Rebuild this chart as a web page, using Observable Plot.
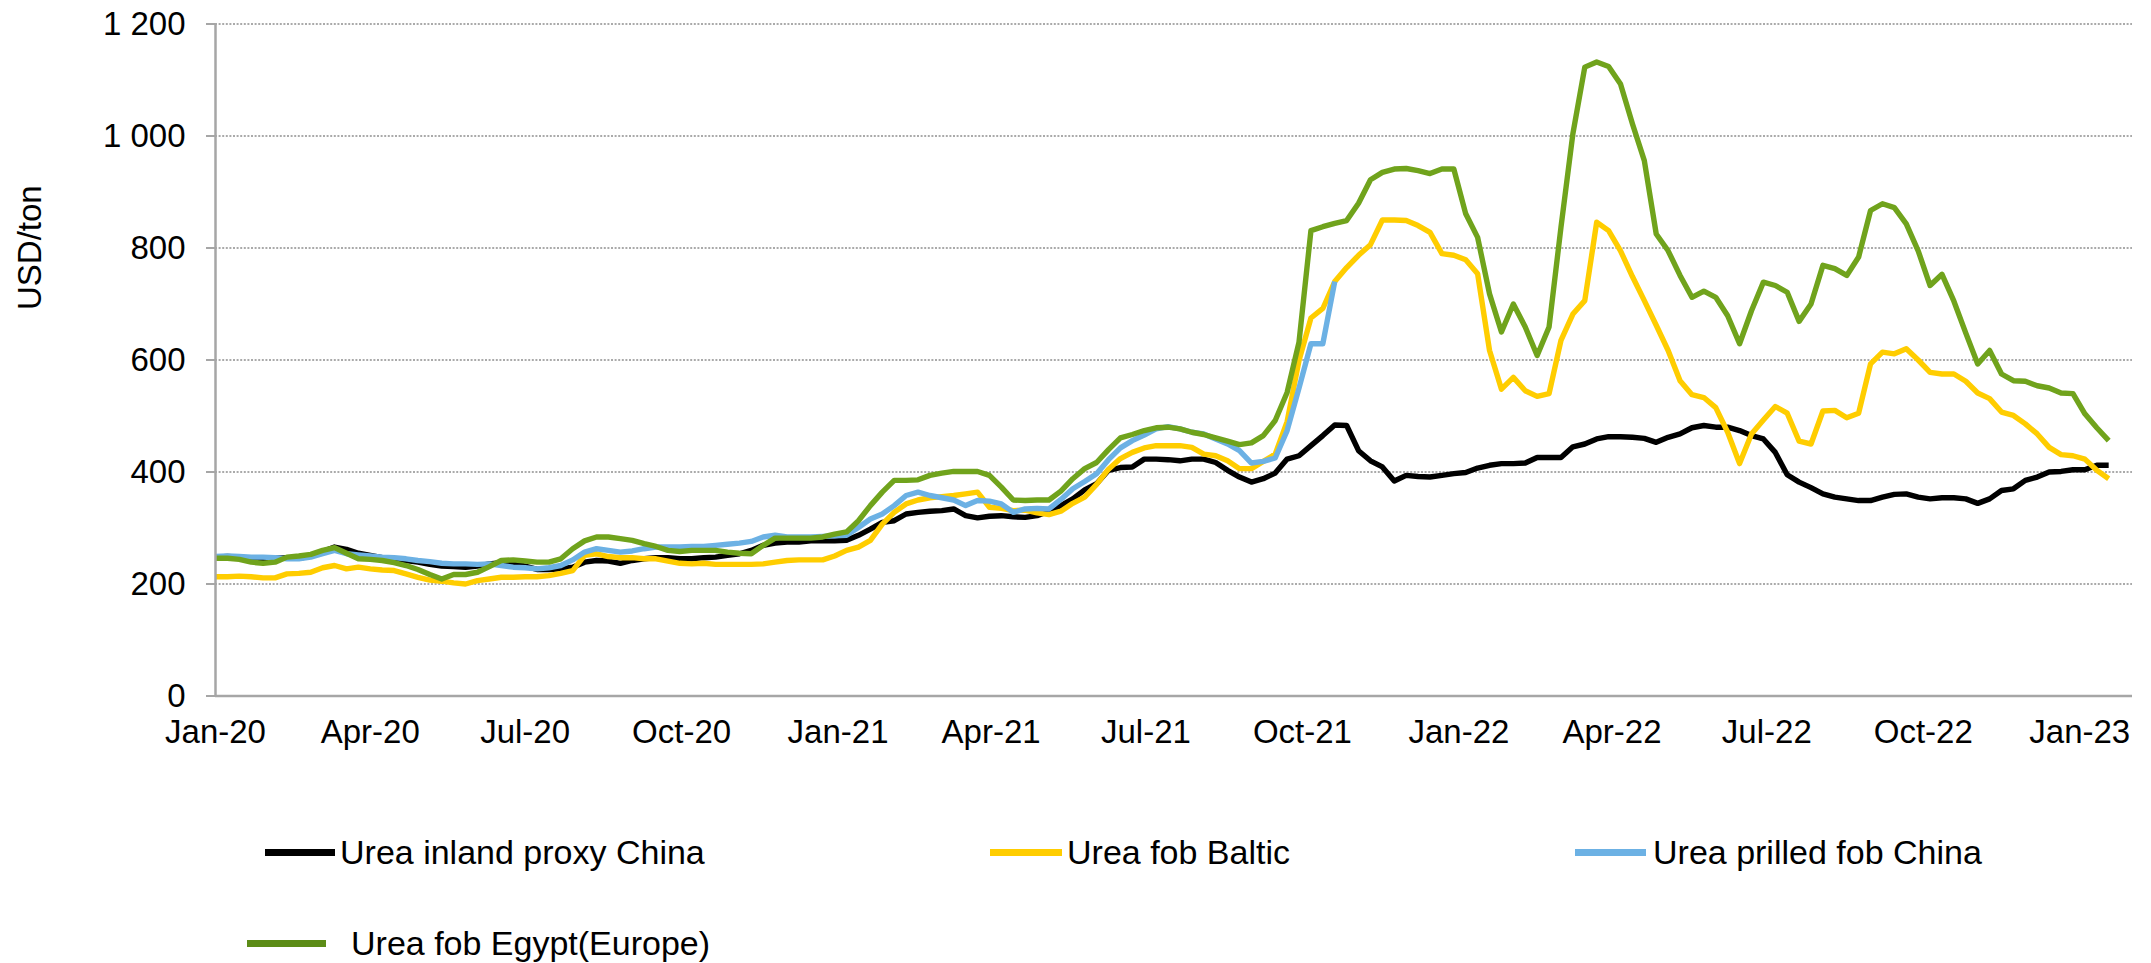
<!DOCTYPE html>
<html><head><meta charset="utf-8">
<script src="https://cdn.jsdelivr.net/npm/d3@7"></script>
<script src="https://cdn.jsdelivr.net/npm/@observablehq/plot@0.6"></script>
<style>
html,body{margin:0;padding:0;background:#fff;}
#wrap{position:relative;width:2151px;height:963px;font-family:"Liberation Sans",Arial,sans-serif;overflow:hidden;background:#fff}
.lg{position:absolute;font-size:34px;line-height:34px;color:#000;white-space:nowrap}
.sw{position:absolute;height:7px}
</style></head><body><div id="wrap"><div id="chart"></div></div>
<script>
// Weekly observations starting 1 Jan 2020 (160 weeks)
const weekCount = 160;
const dates = d3.range(weekCount).map(i => new Date(Date.UTC(2020, 0, 1 + 7 * i)));

const seriesNames = ["Urea inland proxy China", "Urea fob Baltic", "Urea prilled fob China", "Urea fob Egypt(Europe)"];
const seriesColors = ["#000000", "#FFCD00", "#6CB1E4", "#70A31C"];
const legendColors = ["#000000", "#FFCD00", "#6CB1E4", "#5C8C17"];

const inlandChina = [248,249,248,246,245,246,247,246,250,258, 266,262,255,251,247,245,242,239,235,232,
  231,230,232,236,238,237,232,226,226,227, 230,239,242,241,237,242,245,247,247,245,
  245,247,248,251,254,260,269,273,275,275, 277,277,277,278,287,298,310,313,325,328,
  330,331,334,322,318,321,322,320,319,322, 330,340,352,368,379,403,408,409,423,423,
  422,420,423,423,417,403,391,382,388,398, 423,429,447,465,484,483,438,420,409,384,
  394,392,391,394,397,399,407,412,415,415, 416,426,426,426,445,450,459,463,463,462,
  460,453,462,468,479,483,480,480,474,465, 459,435,395,382,372,361,355,352,349,349,
  355,360,361,355,352,354,354,352,344,352, 367,370,385,391,400,401,404,404,412,412];

const fobBaltic = [213,213,214,213,211,211,218,219,221,229, 233,227,230,227,225,224,218,212,207,205,
  202,200,206,209,212,212,213,213,215,219, 224,251,254,249,247,247,245,245,241,237,
  236,237,235,235,235,235,236,239,242,243, 243,243,250,260,266,278,307,328,343,350,
  354,356,358,361,364,337,335,331,332,327, 324,330,344,355,378,405,424,435,443,447,
  447,447,444,432,429,420,406,406,419,432, 490,599,675,692,740,765,787,806,850,850,
  849,840,828,790,787,779,754,617,548,569, 545,535,540,635,682,706,846,831,795,749,
  706,662,617,563,538,533,515,471,415,468, 493,517,505,455,450,509,510,497,505,593,
  614,611,620,600,578,575,575,562,541,531, 507,501,486,468,444,431,429,423,403,388];

const prilledChina = [249,250,249,248,248,247,245,245,248,254, 260,254,252,250,248,247,245,242,240,237,
  236,236,235,236,233,230,229,227,229,233, 243,257,263,260,257,259,263,266,266,266,
  267,267,269,271,273,276,284,287,284,284, 284,285,286,287,301,316,325,340,358,364,
  358,354,350,340,349,348,343,328,334,335, 334,351,370,383,397,422,443,456,466,477,
  481,477,471,468,459,450,438,416,419,425, 474,550,629,629,740];

const fobEgypt = [246,246,244,239,237,239,248,250,253,260, 265,255,245,244,242,238,233,226,217,209,
  217,217,221,231,242,243,241,239,239,245, 263,277,284,284,281,278,272,267,260,258,
  260,260,260,257,255,254,269,282,282,282, 282,284,289,293,313,340,364,385,385,386,
  394,398,401,401,401,394,373,350,349,350, 350,366,388,406,417,440,461,467,474,479,
  480,477,471,467,461,455,449,452,465,492, 542,632,831,838,844,849,880,922,935,941,
  942,938,933,941,941,861,819,718,650,700, 659,608,659,837,1004,1123,1132,1124,1093,1022,
  956,825,795,751,712,723,712,679,629,688, 739,733,721,669,700,769,763,751,784,867,
  879,872,843,795,733,753,705,648,593,617, 575,563,562,554,550,541,540,504,479,456];

const seriesValues = [inlandChina, fobBaltic, prilledChina, fobEgypt];

const xStart = new Date(Date.UTC(2020, 0, 1));
const xEnd = new Date(Date.UTC(2023, 1, 1));
const xTicks = d3.range(0, 13).map(q => new Date(Date.UTC(2020, q * 3, 1)));
const yTicks = [0, 200, 400, 600, 800, 1000, 1200];
const gridValues = [200, 400, 600, 800, 1000, 1200];
const yTitle = "USD/ton";

const rows = seriesValues.map((vals, s) =>
  vals.map((v, i) => ({date: dates[i], value: v, series: seriesNames[s]})));

const spaceFmt = d3.formatLocale({decimal: ",", thousands: " ", grouping: [3], currency: ["", ""]}).format(",");

const lineMarks = rows.map((r, s) => Plot.line(r, {
  x: "date", y: "value", stroke: seriesColors[s], strokeWidth: 5.4,
  strokeLinejoin: "round", strokeLinecap: "butt"
}));

const chart = Plot.plot({
  width: 2151, height: 770,
  marginLeft: 215, marginRight: 19, marginTop: 23.5, marginBottom: 74.5,
  style: {fontFamily: '"Liberation Sans", Arial, sans-serif', fontSize: "33px", color: "#000", background: "#fff"},
  x: {type: "utc", domain: [xStart, xEnd]},
  y: {domain: [0, 1200]},
  marks: [
    Plot.ruleY(gridValues, {stroke: "#8f8f8f", strokeWidth: 1.6, strokeDasharray: "2,1.6"}),
    Plot.axisY(yTicks, {tickSize: 9, tickPadding: 21, stroke: "#a6a6a6", strokeWidth: 2, fill: "#000", tickFormat: spaceFmt, label: null}),
    Plot.axisX(xTicks, {tickSize: 0, tickPadding: 24, fill: "#000", tickFormat: d3.utcFormat("%b-%y"), label: null}),
    Plot.text([yTitle], {text: d => d, frameAnchor: "left", dx: -185, dy: -50, rotate: -90, fontSize: 33, fill: "#000"}),
    ...lineMarks,
    Plot.ruleY([0], {stroke: "#a6a6a6", strokeWidth: 2.5}),
    Plot.ruleX([xStart], {stroke: "#a6a6a6", strokeWidth: 2.5})
  ]
});
document.getElementById("chart").appendChild(chart);

// Legend (HTML, below the plot)
const legendPos = [
  {sw: 265, tx: 340, y: 852},
  {sw: 990, tx: 1067, y: 852},
  {sw: 1575, tx: 1653, y: 852},
  {sw: 247, tx: 351, y: 943}
];
const swatchWidths = [70, 72, 71, 79];
const wrap = document.getElementById("wrap");
seriesNames.forEach((name, s) => {
  const p = legendPos[s];
  const sw = document.createElement("div");
  sw.className = "sw";
  sw.style.left = p.sw + "px";
  sw.style.top = (p.y - 3.5) + "px";
  sw.style.width = swatchWidths[s] + "px";
  sw.style.background = legendColors[s];
  wrap.appendChild(sw);
  const t = document.createElement("div");
  t.className = "lg";
  t.style.left = p.tx + "px";
  t.style.top = (p.y - 17) + "px";
  t.textContent = name;
  wrap.appendChild(t);
});
</script></body></html>
